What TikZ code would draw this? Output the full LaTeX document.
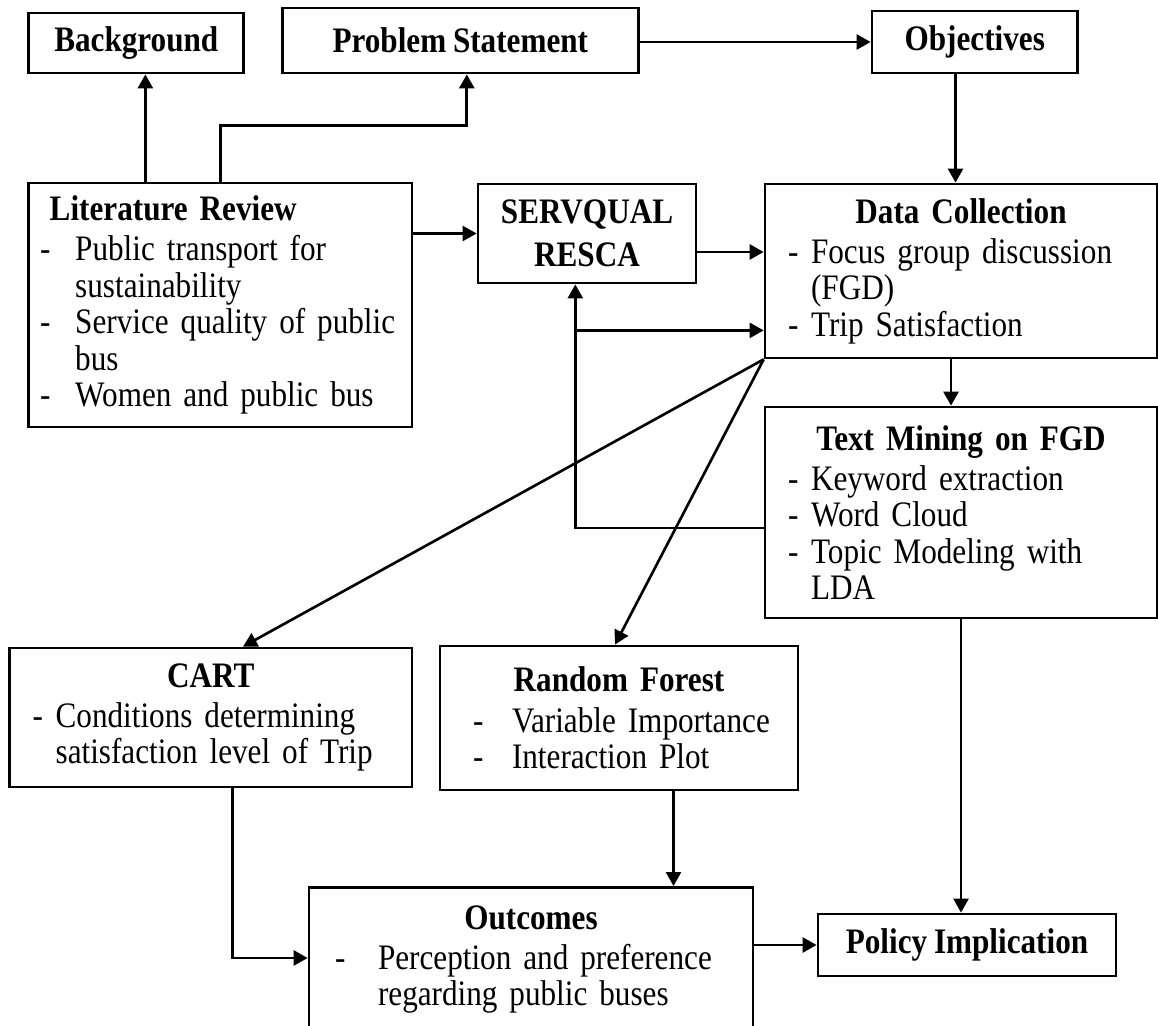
\documentclass[tikz,border=0pt]{standalone}
\usepackage{fontspec}
\setmainfont{Liberation Serif}[FakeStretch=0.87,WordSpace=0.87]
\usetikzlibrary{arrows.meta}
\newcommand{\ditem}[2]{\makebox[#1][l]{-}#2}
\newcommand{\hd}[1]{\hfill\textbf{#1}\hfill\null}

\begin{document}
\begin{tikzpicture}[x=0.02cm,y=0.02cm,
  box/.style={draw,line width=1.6pt,inner sep=0pt,align=center,font=\bfseries},
  listbox/.style={draw,line width=1.6pt,align=left,inner ysep=0pt},
  arr/.style={line width=1.5pt,-{Triangle[length=0.28cm,width=0.3cm]}}]
\fontsize{20.4pt}{20.8pt}\selectfont
\useasboundingbox (0,0) rectangle (1158,-1026);
\clip (0,0) rectangle (1158,-1026);
  \node[box,minimum width=4.3cm,minimum height=1.2cm] (bg) at (136.3,-43) {Background};
  \node[box,minimum width=7.116cm,minimum height=1.3cm] (prob) at (460.3,-40.5) {Problem Statement};
  \node[box,minimum width=4.11cm,minimum height=1.24cm] (obj) at (974.75,-42) {Objectives};
  \node[listbox,text width=7.206cm,inner xsep=0.23cm,minimum height=4.88cm] (lit) at (220.35,-305)
    {\hspace*{0.19cm}\textbf{Literature Review}\\[2pt]
     \ditem{0.7cm}{Public transport for}\\
     \hspace*{0.7cm}sustainability\\
     \ditem{0.7cm}{Service quality of public}\\
     \hspace*{0.7cm}bus\\
     \ditem{0.7cm}{Women and public bus}};
  \node[box,minimum width=4.36cm,minimum height=1.98cm] (serv) at (587,-233.5) {SERVQUAL\\[0.12cm]RESCA};
  \node[listbox,text width=6.92cm,inner xsep=0.46cm,minimum height=3.48cm] (data) at (961,-271)
    {\hd{Data Collection}\\[2pt]
     \ditem{0.46cm}{Focus group discussion}\\
     \hspace*{0.46cm}(FGD)\\
     \ditem{0.46cm}{Trip Satisfaction}};
  \node[listbox,text width=6.92cm,inner xsep=0.46cm,minimum height=4.22cm] (tm) at (961,-512.5)
    {\hd{Text Mining on FGD}\\[2pt]
     \ditem{0.46cm}{Keyword extraction}\\
     \ditem{0.46cm}{Word Cloud}\\
     \ditem{0.46cm}{Topic Modeling with}\\
     \hspace*{0.46cm}LDA};
  \node[listbox,text width=7.128cm,inner xsep=0.46cm,minimum height=2.78cm] (cart) at (210.8,-717.5)
    {\hd{CART}\\[2pt]
     \ditem{0.46cm}{Conditions determining}\\
     \hspace*{0.46cm}satisfaction level of Trip};
  \node[listbox,text width=6.36cm,inner xsep=0.4cm,minimum height=2.88cm] (rf) at (619,-718)
    {\hd{Random Forest}\\[2pt]
     \hspace*{0.26cm}\ditem{0.78cm}{Variable Importance}\\
     \hspace*{0.26cm}\ditem{0.78cm}{Interaction Plot}};
  \node[listbox,text width=7.84cm,inner xsep=0.52cm,inner ysep=0.36cm,text depth=3cm,anchor=north] (out) at (531,-886)
    {\hd{Outcomes}\\[2pt]
     \ditem{0.86cm}{Perception and preference}\\
     \hspace*{0.86cm}regarding public buses};
  \node[box,minimum width=5.96cm,minimum height=1.24cm] (pol) at (967,-945) {Policy Implication};
  \draw[arr] ([xshift=-1.5cm]lit.north) -- ([xshift=-1.5cm]lit.north |- bg.south);
  \draw[arr] (lit.north) -- ++(0,56) -| ([xshift=0.13cm]prob.south);
  \draw[arr] (obj.west -| prob.east) -- (obj.west);
  \draw[arr] ([xshift=-0.385cm]obj.south) -- ([xshift=-0.385cm]obj.south |- data.north);
  \draw[arr] (serv.west -| lit.east) -- (serv.west);
  \draw[arr] ([yshift=-0.37cm]serv.east) -- ([yshift=-0.37cm]serv.east -| data.west);
  \draw[arr] ([yshift=-0.31cm]tm.west) -| ([xshift=-0.234cm]serv.south);
  \draw[arr] ([xshift=-0.234cm,yshift=0.58cm]serv.south |- data.south) -- ([yshift=0.58cm]data.south west);
  \draw[arr] ([xshift=-0.2cm]data.south) -- ([xshift=-0.2cm]data.south |- tm.north);
  \draw[arr] (data.south west) -- ([xshift=0.644cm]cart.north);
  \draw[arr] (data.south west) -- ([xshift=-0.08cm]rf.north);
  \draw[arr] (tm.south) -- (tm.south |- pol.north);
  \draw[arr] ([xshift=1.09cm]rf.south) -- ([xshift=1.09cm]rf.south |- out.north);
  \draw[arr] ([xshift=0.44cm]cart.south) |- ([yshift=-1.44cm]out.north west);
  \draw[arr] (pol.west -| out.east) -- (pol.west);
\end{tikzpicture}
\end{document}
